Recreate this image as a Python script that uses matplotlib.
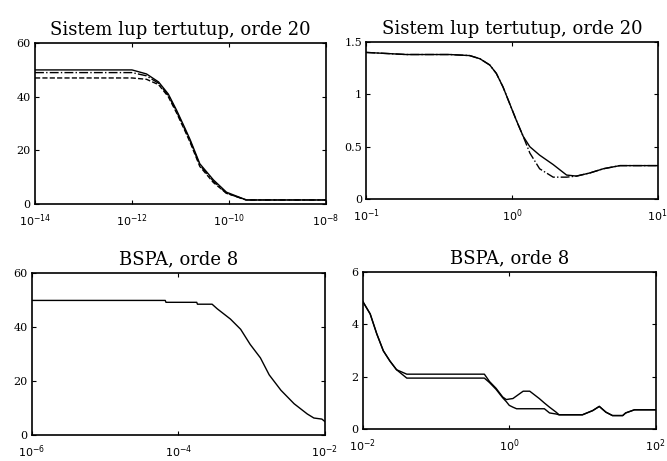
import numpy as np
import matplotlib.pyplot as plt

plt.rcParams['font.family'] = ['DejaVu Serif']

# --- data (x given as log10 of frequency) ---
# top left: closed loop, order 20
tl_logx = [-14, -12.0, -11.7, -11.45, -11.25, -11.08, -10.9, -10.8, -10.6, -10.32, -10.05, -9.64, -8]
tl_full = [50.0, 50.0, 48.5, 45.5, 41.0, 35.0, 28.0, 24.0, 15.0, 9.0, 4.4, 1.5, 1.5]
tl_red1 = [49.0, 49.0, 47.8, 45.0, 40.5, 34.5, 27.5, 23.5, 14.5, 8.5, 4.0, 1.5, 1.5]
tl_red2 = [47.0, 47.0, 46.5, 44.5, 40.0, 34.0, 27.0, 23.0, 14.0, 8.0, 4.0, 1.5, 1.5]

# top right: closed loop, order 20 (zoomed band)
tr_logx = [-1, -0.725, -0.427, -0.29, -0.22, -0.152, -0.107, -0.061, -0.015, 0.031, 0.077,
           0.123, 0.19, 0.283, 0.375, 0.443, 0.535, 0.627, 0.741, 1]
tr_full = [1.40, 1.38, 1.38, 1.37, 1.34, 1.28, 1.20, 1.07, 0.91, 0.75, 0.60,
           0.50, 0.42, 0.33, 0.23, 0.22, 0.25, 0.29, 0.32, 0.32]
tr_red = [1.40, 1.38, 1.38, 1.37, 1.34, 1.28, 1.20, 1.07, 0.91, 0.75, 0.60,
          0.44, 0.29, 0.21, 0.21, 0.22, 0.25, 0.29, 0.32, 0.32]

# bottom left: BSPA, order 8
bl_logx = [-6, -4.18, -4.17, -3.75, -3.74, -3.54, -3.47, -3.29, -3.15, -3.02, -2.88, -2.76,
           -2.60, -2.42, -2.24, -2.15, -2.04, -2.0]
bl_val = [49.9, 49.9, 49.2, 49.2, 48.5, 48.5, 46.8, 43.0, 39.2, 33.6, 28.6, 22.3,
          16.6, 11.6, 7.8, 6.3, 5.9, 5.0]

# bottom right: BSPA, order 8
br_logx = [-2, -1.90, -1.81, -1.72, -1.63, -1.54, -1.40, -0.34, -0.27, -0.18, -0.09, -0.04,
           0.0, 0.05, 0.10, 0.19, 0.28, 0.41, 0.48, 0.55, 0.64, 0.68, 1.0, 1.14, 1.23, 1.32,
           1.41, 1.55, 1.59, 1.71, 2]
br_a = [4.87, 4.4, 3.64, 2.99, 2.6, 2.27, 2.1, 2.1, 1.82, 1.56, 1.23, 1.13,
        1.15, 1.17, 1.27, 1.45, 1.45, 1.17, 1.0, 0.84, 0.65, 0.55, 0.55, 0.71, 0.87, 0.65,
        0.52, 0.52, 0.62, 0.74, 0.74]
br_b = [4.87, 4.4, 3.64, 2.99, 2.6, 2.27, 1.95, 1.95, 1.78, 1.52, 1.20, 1.05,
        0.91, 0.84, 0.78, 0.78, 0.78, 0.78, 0.78, 0.62, 0.58, 0.55, 0.55, 0.71, 0.87, 0.65,
        0.52, 0.52, 0.62, 0.74, 0.74]


def style(ax, xlim, ylim, yticks, yticklabels, xticks, xticklabels, title):
    ax.set_xscale('log')
    ax.set_xlim(xlim)
    ax.set_ylim(ylim)
    ax.set_yticks(yticks)
    ax.set_yticklabels(yticklabels)
    ax.set_xticks(xticks)
    ax.set_xticklabels(xticklabels)
    ax.minorticks_off()
    ax.tick_params(direction='in', top=True, right=True, labelsize=8, length=3)
    ax.tick_params(axis='x', pad=6)
    ax.tick_params(axis='y', pad=3)
    for s in ax.spines.values():
        s.set_linewidth(1.2)
    ax.set_title(title, fontsize=13, pad=6)


fig = plt.figure(figsize=(6.67, 4.61), dpi=100)

ax1 = fig.add_axes([0.0525, 0.5575, 0.436, 0.349])
x = 10.0 ** np.array(tl_logx)
ax1.plot(x, tl_full, 'k-', lw=1)
ax1.plot(x, tl_red1, 'k-.', lw=1)
ax1.plot(x, tl_red2, 'k--', lw=1)
style(ax1, (1e-14, 1e-8), (0, 60), [0, 20, 40, 60], ['0', '20', '40', '60'],
      [1e-14, 1e-12, 1e-10, 1e-8], ['$10^{-14}$', '$10^{-12}$', '$10^{-10}$', '$10^{-8}$'],
      'Sistem lup tertutup, orde 20')

ax2 = fig.add_axes([0.549, 0.568, 0.437, 0.341])
x = 10.0 ** np.array(tr_logx)
ax2.plot(x, tr_full, 'k-', lw=1)
ax2.plot(x, tr_red, 'k-.', lw=1)
style(ax2, (0.1, 10), (0, 1.5), [0, 0.5, 1, 1.5], ['0', '0.5', '1', '1.5'],
      [0.1, 1, 10], ['$10^{-1}$', '$10^{0}$', '$10^{1}$'],
      'Sistem lup tertutup, orde 20')

ax3 = fig.add_axes([0.048, 0.0564, 0.439, 0.351])
x = 10.0 ** np.array(bl_logx)
ax3.plot(x, bl_val, 'k-', lw=1)
style(ax3, (1e-6, 1e-2), (0, 60), [0, 20, 40, 60], ['0', '20', '40', '60'],
      [1e-6, 1e-4, 1e-2], ['$10^{-6}$', '$10^{-4}$', '$10^{-2}$'],
      'BSPA, orde 8')

ax4 = fig.add_axes([0.544, 0.069, 0.439, 0.341])
x = 10.0 ** np.array(br_logx)
ax4.plot(x, br_a, 'k-', lw=1)
ax4.plot(x, br_b, 'k-', lw=1)
style(ax4, (1e-2, 1e2), (0, 6), [0, 2, 4, 6], ['0', '2', '4', '6'],
      [1e-2, 1, 1e2], ['$10^{-2}$', '$10^{0}$', '$10^{2}$'],
      'BSPA, orde 8')

fig.savefig('out.png', dpi=100)
